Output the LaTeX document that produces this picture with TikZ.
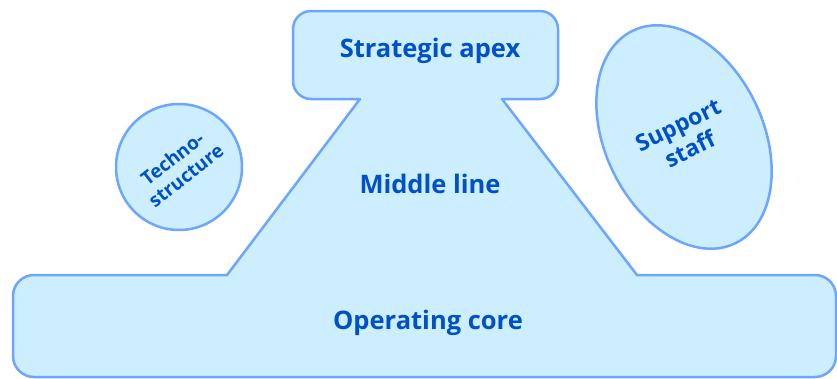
\documentclass[tikz,border=0pt]{standalone}
\usepackage{fontspec}
\setmainfont{Open Sans}
\usepackage{xcolor}
\usepackage{tikz}
\usetikzlibrary{shapes.geometric, positioning}

\definecolor{partfill}{HTML}{CCEEFF}
\definecolor{partline}{HTML}{6EA5FF}
\definecolor{parttext}{HTML}{0050C8}

\begin{document}
\begin{tikzpicture}[x=1pt, y=1pt,
        part/.style={draw=partline, fill=partfill, line width=2.5pt, line join=round},
        lbl/.style={align=center, text=parttext, font=\bfseries\fontsize{25.5}{30}\selectfont},
        side/.style={part, align=center, text=parttext, inner sep=0pt}]
        \useasboundingbox (0,0) rectangle (837,-378);

        % Outline
        \draw[part] (360,-99) -- (227,-275)
            {[rounded corners=21pt] -- (13,-275) -- (13,-377) -- (836,-377) -- (836,-275)}
            -- (637,-275) -- (502,-99)
            {[rounded corners=18pt] -- (558,-99) -- (558,-11) -- (293,-11) -- (293,-99)}
            -- cycle;

        % Nodes
        \node[lbl] (apex) at (430,-51) {Strategic apex};
        \node[lbl] (middle) at (430,-184) {Middle line};
        \node[lbl] (core) at (428,-323) {Operating core};
        \node[side, circle, minimum size=126pt, rotate=38,
            font=\bfseries\fontsize{19}{22}\selectfont] (techno) at (179,-167) {Techno-\\structure};
        \node[side, ellipse, minimum width=158pt, minimum height=236pt, rotate=25.7,
            font=\bfseries\fontsize{23}{27}\selectfont] (support) at (684,-137) {Support\\staff};
    \end{tikzpicture}
\end{document}
